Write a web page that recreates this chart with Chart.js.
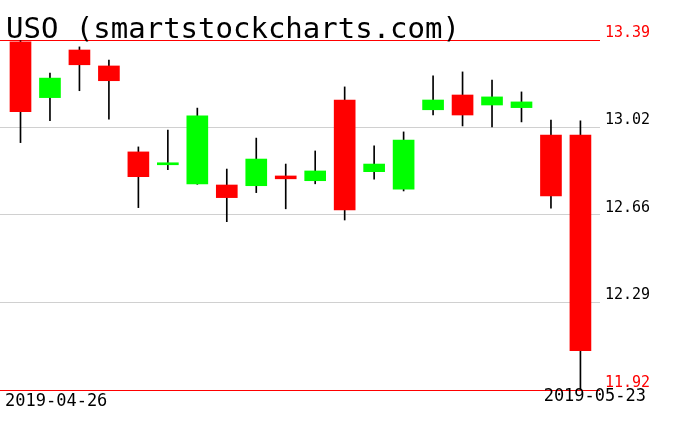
<!DOCTYPE html>
<html>
<head>
<meta charset="utf-8">
<script src="https://cdn.jsdelivr.net/npm/chart.js@4"></script>
<style>
  html, body { margin: 0; padding: 0; background: #fff; }
</style>
</head>
<body>
<canvas id="chart" width="676" height="431"></canvas>
<script>
const dates = [
  "2019-04-26", "2019-04-29", "2019-04-30", "2019-05-01", "2019-05-02",
  "2019-05-03", "2019-05-06", "2019-05-07", "2019-05-08", "2019-05-09",
  "2019-05-10", "2019-05-13", "2019-05-14", "2019-05-15", "2019-05-16",
  "2019-05-17", "2019-05-20", "2019-05-21", "2019-05-22", "2019-05-23"
]
const opens  = [13.382, 13.148, 13.348, 13.281, 12.920, 12.866, 12.786, 12.781, 12.778, 12.819,
                12.799, 13.138, 12.837, 12.764, 13.097, 13.159, 13.117, 13.106, 12.991, 12.991]
const highs  = [13.387, 13.251, 13.361, 13.306, 12.941, 13.012, 13.104, 12.848, 12.978, 12.869,
                12.924, 13.193, 12.946, 13.004, 13.239, 13.256, 13.222, 13.172, 13.054, 13.050]
const lows   = [12.959, 13.051, 13.177, 13.057, 12.686, 12.845, 12.784, 12.627, 12.749, 12.681,
                12.786, 12.634, 12.806, 12.756, 13.075, 13.029, 13.025, 13.046, 12.684, 11.920]
const closes = [13.089, 13.230, 13.286, 13.219, 12.816, 12.870, 13.071, 12.728, 12.890, 12.807,
                12.840, 12.676, 12.869, 12.970, 13.138, 13.075, 13.151, 13.130, 12.735, 12.085]
const yMin = 11.92
const yMax = 13.39
const yTickLabels = ["11.92", "12.29", "12.66", "13.02", "13.39"]

const UP = "#00ff00"
const DOWN = "#ff0000"

const bodies = dates.map((d, i) => ({ x: i, y: [opens[i], closes[i]] }))
const wicks = dates.map((d, i) => ({ x: i, y: [lows[i], highs[i]] }))
const bodyColors = dates.map((d, i) => closes[i] >= opens[i] ? UP : DOWN)

const textPlugin = {
  id: "texts",
  afterDraw(chart) {
    const { ctx } = chart
    ctx.save()
    ctx.fillStyle = "#000"
    ctx.textBaseline = "alphabetic"
    ctx.font = "29px 'DejaVu Sans Mono'"
    ctx.textAlign = "left"
    ctx.fillText("USO (smartstockcharts.com)", 6, 38)
    ctx.font = "17px 'DejaVu Sans Mono'"
    ctx.fillText(dates[0], 5, 406)
    ctx.textAlign = "right"
    ctx.fillText(dates[dates.length - 1], 646, 401)
    ctx.restore()
  }
}

new Chart(document.getElementById("chart"), {
  type: "bar",
  data: {
    datasets: [
      {
        data: bodies,
        backgroundColor: bodyColors,
        barThickness: 21,
        minBarLength: 2,
        grouped: false,
        order: 0
      },
      {
        data: wicks,
        backgroundColor: "#000",
        barThickness: 1,
        grouped: false,
        order: 1
      }
    ]
  },
  options: {
    responsive: false,
    animation: false,
    layout: { padding: { top: 40, bottom: 41, left: 0, right: 0 } },
    plugins: { legend: { display: false }, tooltip: { enabled: false } },
    scales: {
      x: {
        type: "linear",
        min: -0.6956,
        max: 19.664,
        display: false,
        offset: false
      },
      y: {
        position: "right",
        min: yMin,
        max: yMax,
        afterFit(scale) { scale.width = 76 },
        afterBuildTicks(scale) {
          scale.ticks = yTickLabels.map((t, k) => ({ value: yMin + k * (yMax - yMin) / 4 }))
        },
        border: { display: false },
        grid: {
          drawTicks: false,
          color: ctx => (ctx.index === 0 || ctx.index === yTickLabels.length - 1) ? DOWN : "#d0d0d0",
          lineWidth: 1
        },
        ticks: {
          padding: 5,
          labelOffset: -7,
          font: { family: "'DejaVu Sans Mono'", size: 15 },
          color: ctx => (ctx.index === 0 || ctx.index === yTickLabels.length - 1) ? DOWN : "#000",
          callback: (v, i) => yTickLabels[i]
        }
      }
    }
  },
  plugins: [textPlugin]
})
</script>
</body>
</html>
